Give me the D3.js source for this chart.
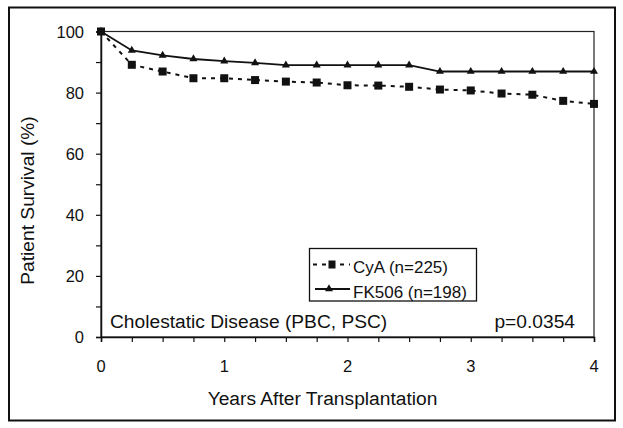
<!DOCTYPE html>
<html><head><meta charset="utf-8">
<script src="https://cdn.jsdelivr.net/npm/d3@7"></script>
<style>
body{margin:0;background:#fff;}
text{font-family:"Liberation Sans",Arial,sans-serif;fill:#111;}
</style></head>
<body><svg id="c" width="623" height="428"></svg>
<script>
const years = [0,0.25,0.5,0.75,1,1.25,1.5,1.75,2,2.25,2.5,2.75,3,3.25,3.5,3.75,4];
const cya = [100,89.1,86.9,84.7,84.7,84.1,83.6,83.3,82.4,82.3,81.9,81.0,80.7,79.7,79.3,77.3,76.3];
const fk506 = [100,93.8,92.2,91.0,90.3,89.7,89.0,89.0,89.0,89.0,89.0,86.9,86.9,86.9,86.9,86.9,86.9];
const seriesNames = ["CyA (n=225)","FK506 (n=198)"];
const xTicks = [0,1,2,3,4];
const yTicks = [0,20,40,60,80,100];
const xTitle = "Years After Transplantation";
const yTitle = "Patient Survival (%)";
const note = "Cholestatic Disease (PBC, PSC)";
const pval = "p=0.0354";

const svg = d3.select("#c");
const L=101,R=594,T=31.5,B=337;
const x = d3.scaleLinear().domain([0,4]).range([L,R]);
const y = d3.scaleLinear().domain([0,100]).range([B,T]);

// outer frame
svg.append("rect").attr("x",9).attr("y",7.5).attr("width",606).attr("height",413)
  .attr("fill","none").attr("stroke","#111").attr("stroke-width",2);

// plot box
svg.append("rect").attr("x",L).attr("y",T).attr("width",R-L).attr("height",B-T)
  .attr("fill","none").attr("stroke","#222").attr("stroke-width",1.2);

// x axis
const xa = svg.append("g").attr("transform",`translate(0,${B})`)
  .call(d3.axisBottom(x).tickValues(d3.range(0,4.01,0.25)).tickSize(5).tickFormat(""));
xa.select(".domain").attr("stroke","#111").attr("stroke-width",1.5);
xa.selectAll("line").attr("stroke","#111").attr("stroke-width",1.2);
svg.append("g").selectAll("text").data(xTicks).join("text")
  .attr("x",d=>x(d)).attr("y",372).attr("text-anchor","middle")
  .style("font-size","16.5px").text(d=>d);

// y axis
const ya = svg.append("g").attr("transform",`translate(${L},0)`)
  .call(d3.axisLeft(y).tickValues(d3.range(0,101,10)).tickSize(5).tickFormat(""));
ya.select(".domain").attr("stroke","#111").attr("stroke-width",1.5);
ya.selectAll("line").attr("stroke","#111").attr("stroke-width",1.2);
svg.append("g").selectAll("text").data(yTicks).join("text")
  .attr("x",84).attr("y",d=>y(d)+6).attr("text-anchor","end")
  .style("font-size","16.5px").text(d=>d);

// titles
svg.append("text").attr("x",322.5).attr("y",405).attr("text-anchor","middle")
  .style("font-size","19.2px").text(xTitle);
svg.append("text").attr("transform","translate(34,200.5) rotate(-90)").attr("text-anchor","middle")
  .style("font-size","19.2px").text(yTitle);

// lines
const line = d3.line().x((d,i)=>x(years[i])).y(d=>y(d));
svg.append("path").datum(cya).attr("d",line).attr("fill","none")
  .attr("stroke","#111").attr("stroke-width",2).attr("stroke-dasharray","4,5");
svg.append("path").datum(fk506).attr("d",line).attr("fill","none")
  .attr("stroke","#111").attr("stroke-width",1.8);

// markers
svg.append("g").selectAll("rect").data(cya).join("rect")
  .attr("x",(d,i)=>x(years[i])-4).attr("y",d=>y(d)-4).attr("width",8).attr("height",8).attr("fill","#111");
const tri = d3.symbol().type(d3.symbolTriangle).size(28);
svg.append("g").selectAll("path").data(fk506).join("path")
  .attr("transform",(d,i)=>`translate(${x(years[i])},${y(d)})`).attr("d",tri).attr("fill","#111");

// legend
svg.append("rect").attr("x",309.5).attr("y",248.5).attr("width",167).attr("height",52.5)
  .attr("fill","#fff").attr("stroke","#111").attr("stroke-width",1.3);
svg.append("line").attr("x1",313).attr("x2",350).attr("y1",264.5).attr("y2",264.5)
  .attr("stroke","#111").attr("stroke-width",2).attr("stroke-dasharray","4,5");
svg.append("rect").attr("x",328.5).attr("y",260.5).attr("width",7).attr("height",8).attr("fill","#111");
svg.append("line").attr("x1",315).attr("x2",350).attr("y1",289).attr("y2",289)
  .attr("stroke","#111").attr("stroke-width",1.8);
svg.append("path").attr("transform","translate(329,289)").attr("d",tri).attr("fill","#111");
svg.append("g").selectAll("text").data(seriesNames).join("text")
  .attr("x",353).attr("y",(d,i)=>272.5+i*25.5).style("font-size","17px").text(d=>d);

// annotations
svg.append("text").attr("x",110).attr("y",327.5).style("font-size","19.2px").text(note);
svg.append("text").attr("x",575).attr("y",327.5).attr("text-anchor","end").style("font-size","19.2px").text(pval);
</script></body></html>
